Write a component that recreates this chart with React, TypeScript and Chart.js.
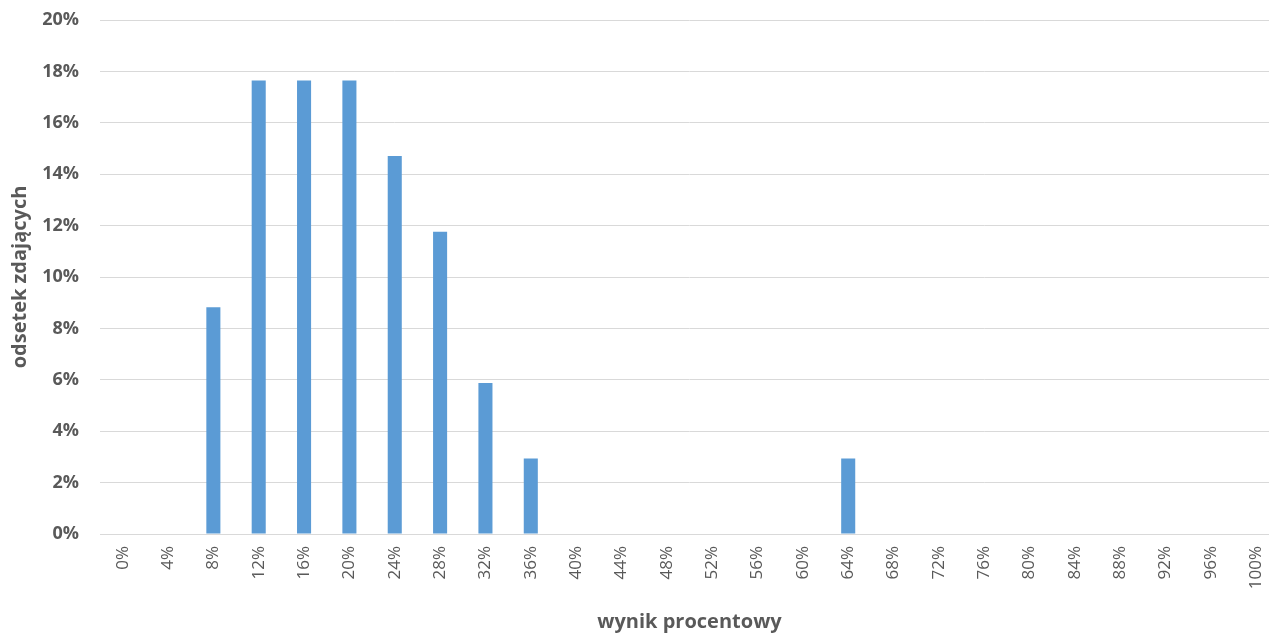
import React, { useEffect, useRef } from "react";
import { Chart, registerables } from "chart.js";

Chart.register(...registerables);

const categories: string[] = [
  "0%", "4%", "8%", "12%", "16%", "20%", "24%", "28%", "32%", "36%", "40%", "44%", "48%",
  "52%", "56%", "60%", "64%", "68%", "72%", "76%", "80%", "84%", "88%", "92%", "96%", "100%",
];

const shares: number[] = [
  0, 0, 8.82, 17.65, 17.65, 17.65, 14.71, 11.76, 5.88, 2.94, 0, 0, 0,
  0, 0, 0, 2.94, 0, 0, 0, 0, 0, 0, 0, 0, 0,
];

const yMin = 0;
const yMax = 20;
const yStep = 2;

const xTitle = "wynik procentowy";
const yTitle = "odsetek zdających";

const textColor = "#595959";
const gridColor = "#D9D9D9";
const barColor = "#5B9BD5";
const fontFamily = "'Open Sans', 'Noto Sans', sans-serif";

export default function App() {
  const canvasRef = useRef<HTMLCanvasElement | null>(null);

  useEffect(() => {
    if (!canvasRef.current) return;
    const chart = new Chart(canvasRef.current, {
      type: "bar",
      data: {
        labels: categories,
        datasets: [
          {
            data: shares,
            backgroundColor: barColor,
            borderWidth: 0,
            barPercentage: 0.31,
            categoryPercentage: 1,
          },
        ],
      },
      options: {
        animation: false,
        responsive: false,
        maintainAspectRatio: false,
        layout: { padding: { top: 20, right: 21, bottom: 0, left: 0 } },
        plugins: {
          legend: { display: false },
          tooltip: { enabled: false },
        },
        scales: {
          x: {
            grid: { display: false, drawTicks: false },
            border: { display: true, color: gridColor, width: 1 },
            ticks: {
              color: textColor,
              font: { family: fontFamily, size: 17 },
              minRotation: 90,
              maxRotation: 90,
              padding: 12,
              autoSkip: false,
            },
            title: {
              display: true,
              text: xTitle,
              color: textColor,
              font: { family: fontFamily, size: 20, weight: "bold" },
              padding: { top: 0, bottom: 3 },
            },
            afterFit: (scale: any) => {
              scale.height = 103;
              scale.paddingLeft = 0;
              scale.paddingRight = 0;
            },
          },
          y: {
            min: yMin,
            max: yMax,
            grid: { color: gridColor, drawTicks: false, lineWidth: 1 },
            border: { display: false },
            ticks: {
              stepSize: yStep,
              color: textColor,
              font: { family: fontFamily, size: 18, weight: "bold" },
              padding: 21,
              callback: (v: any) => v + "%",
            },
            title: {
              display: true,
              text: yTitle,
              color: textColor,
              font: { family: fontFamily, size: 20, weight: "bold" },
              padding: { top: 8, bottom: 0 },
            },
            afterFit: (scale: any) => {
              scale.width = 100;
              scale.paddingTop = 0;
              scale.paddingBottom = 0;
            },
          },
        },
      },
    });
    return () => chart.destroy();
  }, []);

  return (
    <div
      style={{
        position: "absolute",
        left: 0,
        top: 0,
        width: 1269,
        height: 637,
        overflow: "hidden",
        background: "#fff",
      }}
    >
      <canvas ref={canvasRef} width={1300} height={637} style={{ width: 1300, height: 637, display: "block" }} />
    </div>
  );
}
